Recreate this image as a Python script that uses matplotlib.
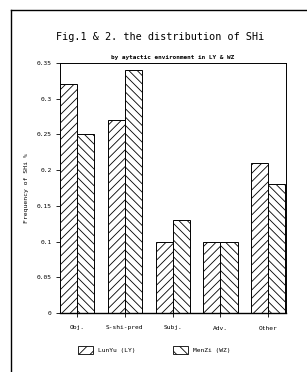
import matplotlib
matplotlib.use("Agg")
import matplotlib.pyplot as plt
import numpy as np
from matplotlib.patches import Patch
from matplotlib.lines import Line2D

categories = ["Obj.", "S-shi-pred", "Subj.", "Adv.", "Other"]
ly_values = [0.32, 0.27, 0.10, 0.10, 0.21]
wz_values = [0.25, 0.34, 0.13, 0.10, 0.18]
series_labels = ["LunYu (LY)", "MenZi (WZ)"]
yticks = [0, 0.05, 0.1, 0.15, 0.2, 0.25, 0.3, 0.35]
ytick_labels = ["0", "0.05", "0.1", "0.15", "0.2", "0.25", "0.3", "0.35"]

plt.rcParams['hatch.linewidth'] = 0.6
mono = "DejaVu Sans Mono"

W, H = 307, 372
fig = plt.figure(figsize=(W / 100, H / 100), dpi=100)
fig.patch.set_facecolor("white")

def fx(px):
    return px / W

def fy(py):
    return 1 - py / H

ax = fig.add_axes([fx(60), fy(313), fx(286) - fx(60), fy(63) - fy(313)])

hatch_ly = "////"
hatch_wz = "\\\\\\\\"

x = np.arange(len(categories))
bw = 0.356
ax.bar(x - bw / 2, ly_values, bw, facecolor="white", edgecolor="black",
       linewidth=0.7, hatch=hatch_ly)
ax.bar(x + bw / 2, wz_values, bw, facecolor="white", edgecolor="black",
       linewidth=0.7, hatch=hatch_wz)

ax.set_xlim(-0.356, 4.37)
ax.set_ylim(0, 0.35)
ax.set_xticks(x)
ax.set_xticklabels(categories, fontsize=4.5, family=mono)
ax.set_yticks(yticks)
ax.set_yticklabels(ytick_labels, fontsize=4.5, family=mono)
ax.tick_params(axis="x", direction="inout", length=6, width=0.6, pad=6)
ax.tick_params(axis="y", direction="out", length=3, width=0.6, pad=3)
for s in ax.spines.values():
    s.set_linewidth(0.7)
ax.spines["bottom"].set_linewidth(1.0)

ax.set_title("by aytactic environment in LY & WZ", fontsize=4.3, family=mono,
             fontweight="bold", pad=3)

fig.text(fx(160), fy(37), "Fig.1 & 2. the distribution of SHi", ha="center",
         va="center", fontsize=7.3, family=mono)
fig.text(fx(27), fy(188), "Frequency of SHi %", rotation=90, ha="center",
         va="center", fontsize=4.6, family=mono)

# outer frame
fig.add_artist(Line2D([fx(11), 1.0], [fy(10), fy(10)], transform=fig.transFigure,
                      color="black", linewidth=1.0))
fig.add_artist(Line2D([fx(11), fx(11)], [fy(10), 0.0], transform=fig.transFigure,
                      color="black", linewidth=1.0))

handles = [Patch(facecolor="white", edgecolor="black", hatch="///", linewidth=0.6),
           Patch(facecolor="white", edgecolor="black", hatch="\\\\\\", linewidth=0.6)]
fig.legend(handles, series_labels, ncol=2, frameon=False, loc="center",
           bbox_to_anchor=(fx(154), fy(350)), prop={"family": mono, "size": 4.5},
           handlelength=2.4, handleheight=1.8, columnspacing=6, handletextpad=0.8)

fig.savefig("out.png", dpi=100, facecolor="white")
